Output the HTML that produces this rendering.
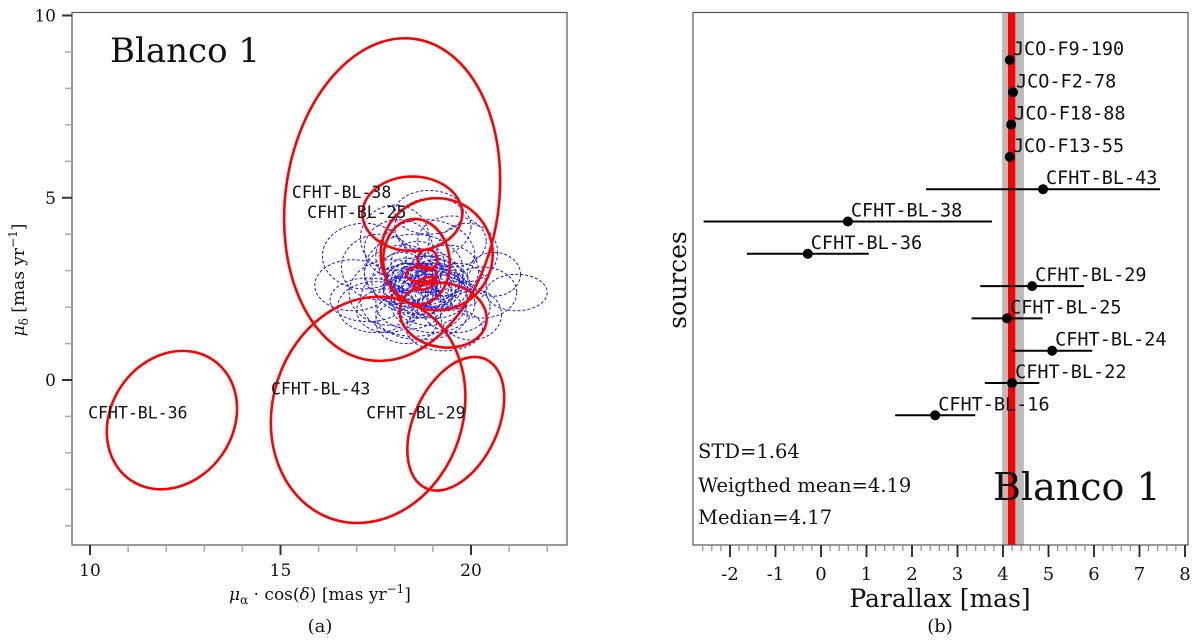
<!DOCTYPE html>
<html><head><meta charset="utf-8"><style>
body{margin:0;background:#fff}
svg{display:block}
text{font-family:"DejaVu Serif","Liberation Serif",serif;fill:#111}
.mono{font-family:"DejaVu Sans Mono","Liberation Mono",monospace}
</style></head><body>
<svg id="c" width="1200" height="640" viewBox="0 0 1200 640"></svg>
<script>
// ---- Panel (a): proper motion ellipses (data units) ----
const redNames=["CFHT-BL-38-big","CFHT-BL-43","CFHT-BL-36","CFHT-BL-29","CFHT-BL-38","ell-6","ell-7","ell-8","ell-9","ell-10","ell-11"];
const redCx=[17.93,17.3,12.15,19.6,18.46,18.57,19.1,19.27,18.86,18.7,18.8];
const redCy=[4.95,-0.82,-1.1,-1.2,4.56,3.24,3.45,1.78,3.3,2.9,2.65];
const redRx=[2.8,2.5,1.6,1.1,1.31,0.87,1.47,1.15,0.26,0.4,0.3];
const redRy=[4.45,3.15,2.0,1.95,1.02,1.18,1.54,0.88,0.28,0.22,0.15];
const redRot=[8,18,35,25,0,-5,0,10,0,0,-20];
const blueCx=[18.6,18.2,19.1,17.9,19.4,18.8,18.4,19.7,17.6,20.3,21.2,16.9,17.2,18.0,19.0,18.7,19.9,18.3,17.5,20.6,18.9,19.3,18.1,18.5,19.6,17.8,18.6,19.2,18.9,18.4,20.0,17.3,19.5,18.2,18.7,19.0,18.3,19.4,18.8,18.5,18.6,18.9,18.4,18.7,19.1,18.3,18.8,18.6,18.5,19.0,18.7,18.9,18.2,18.6,19.2,18.8];
const blueCy=[2.7,2.9,2.5,2.4,3.0,3.4,2.1,2.6,3.1,2.4,2.4,2.6,3.4,3.9,4.2,1.8,3.5,1.6,2.0,2.9,4.6,1.4,3.6,2.2,2.0,1.9,3.2,2.8,2.3,2.6,1.8,2.2,3.8,3.0,2.5,2.1,2.8,2.4,2.7,3.0,2.6,2.8,2.5,2.4,2.7,2.9,2.3,2.9,2.6,2.5,2.7,2.6,2.4,2.2,2.5,3.0];
const blueRx=[1.2,1.0,0.9,1.1,0.8,1.3,0.9,0.7,1.0,0.9,0.8,1.0,1.1,0.9,1.0,1.2,0.8,0.8,1.0,0.7,0.9,1.0,0.9,1.4,0.9,0.8,0.7,0.6,1.0,0.7,0.8,1.0,0.9,0.6,0.8,1.1,0.5,0.6,0.9,1.3,0.6,0.5,0.7,0.4,0.6,0.5,0.7,0.4,0.5,0.6,0.3,0.8,0.5,0.6,0.7,0.45];
const blueRy=[0.9,0.8,0.8,0.9,0.7,1.0,0.7,0.6,0.9,0.7,0.5,0.7,0.9,0.9,0.8,0.7,0.8,0.6,0.7,0.6,0.6,0.6,0.8,1.0,0.7,0.6,0.6,0.5,0.8,0.6,0.7,0.6,0.7,0.5,0.7,0.8,0.4,0.5,0.7,1.0,0.5,0.4,0.6,0.35,0.5,0.45,0.6,0.35,0.4,0.5,0.3,0.6,0.45,0.5,0.55,0.4];
const leftLabels=["CFHT-BL-38","CFHT-BL-25","CFHT-BL-36","CFHT-BL-43","CFHT-BL-29"];
const leftLabX=[15.3,15.7,9.95,14.75,17.25];
const leftLabY=[5.0,4.45,-1.05,-0.4,-1.05];
// ---- Panel (b): parallaxes ----
const srcNames=["JCO-F9-190","JCO-F2-78","JCO-F18-88","JCO-F13-55","CFHT-BL-43","CFHT-BL-38","CFHT-BL-36","CFHT-BL-29","CFHT-BL-25","CFHT-BL-24","CFHT-BL-22","CFHT-BL-16"];
const plx=[4.15,4.22,4.18,4.15,4.88,0.59,-0.29,4.64,4.09,5.08,4.20,2.51];
const plxErr=[0.08,0.06,0.06,0.08,2.57,3.17,1.34,1.14,0.78,0.88,0.60,0.88];
const plxTicks=[-2,-1,0,1,2,3,4,5,6,7,8];
const wmean=4.19, wmeanErr=0.08, stdBand=[3.98,4.46];
const pmXTicks=[10,15,20], pmYTicks=[0,5,10];

const NS="http://www.w3.org/2000/svg", svg=document.getElementById('c');
function el(tag,attrs,parent,txt){const e=document.createElementNS(NS,tag);for(const k in attrs)e.setAttribute(k,attrs[k]);if(txt!==undefined)e.textContent=txt;(parent||svg).appendChild(e);return e;}

const ax=v=>90+(v-10)*38.1, ay=v=>380-v*36.45;
const bx=v=>821+v*45.5, by=i=>60+i*32.3;

const ga=el('g',{});
const blueG=el('g',{},ga);
for(let i=0;i<blueCx.length;i++){
 const e=el('ellipse',{cx:ax(blueCx[i]),cy:ay(blueCy[i]),rx:blueRx[i]*38.1,ry:blueRy[i]*36.45,fill:'none',stroke:'#1a1aee','stroke-width':1,'stroke-dasharray':'3,2'},blueG);
 
 
}
for(let i=0;i<redCx.length;i++){
 const cx=ax(redCx[i]),cy=ay(redCy[i]);
 const e=el('ellipse',{cx:cx,cy:cy,rx:redRx[i]*38.1,ry:redRy[i]*36.45,fill:'none',stroke:'#ff0000','stroke-width':2.6,transform:`rotate(${redRot[i]} ${cx} ${cy})`},ga);
 
 
}
for(let i=0;i<leftLabels.length;i++){
 const t=el('text',{x:ax(leftLabX[i]),y:ay(leftLabY[i]),'font-size':16.5,class:'mono'},ga,leftLabels[i]);
 
 
}
el('rect',{x:72,y:12.5,width:495,height:532.5,fill:'none',stroke:'#555','stroke-width':1.2},ga);
for(let v=-4;v<=10;v++){const y=ay(v);if(y>545||y<12)continue;const maj=v%5==0;el('line',{x1:maj?62:65,x2:72,y1:y,y2:y,stroke:maj?'#333':'#aaa','stroke-width':maj?2:1.5},ga);}
for(let v=10;v<=22;v++){const x=ax(v);const maj=v%5==0;el('line',{x1:x,x2:x,y1:545,y2:maj?555:552,stroke:maj?'#333':'#aaa','stroke-width':maj?2:1.5},ga);}
pmYTicks.forEach(v=>{const t=el('text',{x:56,y:ay(v)+6,'text-anchor':'end','font-size':17},ga,v);});
pmXTicks.forEach(v=>{const t=el('text',{x:ax(v),y:576,'text-anchor':'middle','font-size':17},ga,v);});
let t=el('text',{x:110,y:62,'font-size':34},ga,'Blanco 1');
t=el('text',{x:320,y:600,'text-anchor':'middle','font-size':17},ga);
t.innerHTML='<tspan font-style="italic">μ</tspan><tspan font-size="12" dy="4">α</tspan><tspan dy="-4"> · cos(</tspan><tspan font-style="italic">δ</tspan><tspan>)  [mas yr</tspan><tspan font-size="12" dy="-7">−1</tspan><tspan dy="7">]</tspan>';
t=el('text',{x:0,y:0,'text-anchor':'middle','font-size':17,transform:'translate(24,280) rotate(-90)'},ga);
t.innerHTML='<tspan font-style="italic">μ</tspan><tspan font-size="12" dy="4">δ</tspan><tspan dy="-4">  [mas yr</tspan><tspan font-size="12" dy="-7">−1</tspan><tspan dy="7">]</tspan>';
t=el('text',{x:320,y:632,'text-anchor':'middle','font-size':18},ga,'(a)');

const gb=el('g',{});
let r=el('rect',{x:bx(stdBand[0]),y:12.5,width:bx(stdBand[1])-bx(stdBand[0]),height:532.5,fill:'#bbbbbb'},gb);
r=el('rect',{x:bx(wmean-wmeanErr),y:12.5,width:bx(wmean+wmeanErr)-bx(wmean-wmeanErr),height:532.5,fill:'#ff0000'},gb);
for(let i=0;i<plx.length;i++){
 const y=by(i),x=bx(plx[i]);
 const l=el('line',{x1:bx(plx[i]-plxErr[i]),x2:bx(plx[i]+plxErr[i]),y1:y,y2:y,stroke:'#000','stroke-width':2},gb);
 
 
 const c=el('circle',{cx:x,cy:y,r:5,fill:'#000'},gb);
 
 
 const tt=el('text',{x:x+3,y:y-5,'font-size':18.5,class:'mono'},gb,srcNames[i]);
 
 
}
el('rect',{x:693,y:12.5,width:495,height:532.5,fill:'none',stroke:'#555','stroke-width':1.2},gb);
for(let k=-14;k<=40;k++){const v=k*0.2;const x=bx(v);if(x<694||x>1187)continue;const maj=k%5==0;el('line',{x1:x,x2:x,y1:545,y2:maj?557:551,stroke:maj?'#222':'#888','stroke-width':maj?1.8:1.2},gb);}
plxTicks.forEach(v=>{const t=el('text',{x:bx(v),y:580,'text-anchor':'middle','font-size':18},gb,v);});
t=el('text',{x:940,y:607,'text-anchor':'middle','font-size':25},gb,'Parallax [mas]');
t=el('text',{x:0,y:0,'text-anchor':'middle','font-size':25,transform:'translate(686,280) rotate(-90)'},gb,'sources');
t=el('text',{x:940,y:632,'text-anchor':'middle','font-size':18},gb,'(b)');
[['STD=1.64',458],['Weigthed mean=4.19',492],['Median=4.17',524]].forEach(s=>{const t=el('text',{x:698,y:s[1],'font-size':19.5},gb,s[0]);});
t=el('text',{x:993,y:500,'font-size':38},gb,'Blanco 1');
</script>
</body></html>
